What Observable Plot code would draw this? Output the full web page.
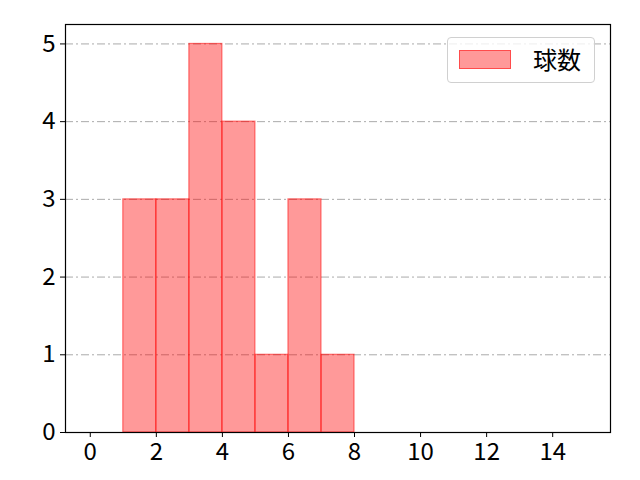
<!DOCTYPE html>
<html>
<head>
<meta charset="utf-8">
<script src="https://cdn.jsdelivr.net/npm/d3@7"></script>
<script src="https://cdn.jsdelivr.net/npm/@observablehq/plot@0.6"></script>
<style>
  html, body { margin: 0; padding: 0; background: #fff; }
  #wrap { position: relative; width: 640px; height: 480px; }
  #wrap svg text { font-size: 24px !important; font-family: "Noto Sans CJK JP", sans-serif !important; fill: #000; }
  #legend {
    position: absolute; left: 447px; top: 37px; width: 148px; height: 46px;
    border: 1px solid #d0d0d0; border-radius: 4px; background: rgba(255,255,255,0.8);
    box-sizing: border-box; font-family: "Noto Sans CJK JP", sans-serif; font-size: 24px;
  }
  #legend .sw {
    position: absolute; left: 11px; top: 12px; width: 52px; height: 19px;
    background: rgba(255,0,0,0.4); border: 1px solid rgba(255,0,0,0.5); box-sizing: border-box;
  }
  #legend .lb { position: absolute; left: 85px; top: 5px; line-height: 32px; color: #000; }
</style>
</head>
<body>
<div id="wrap"></div>
<script>
const binStart = [1, 2, 3, 4, 5, 6, 7];
const binEnd   = [2, 3, 4, 5, 6, 7, 8];
const counts   = [3, 3, 5, 4, 1, 3, 1];
const xTicks = [0, 2, 4, 6, 8, 10, 12, 14];
const yTicks = [0, 1, 2, 3, 4, 5];
const seriesName = "球数";

const data = binStart.map((s, i) => ({x1: s, x2: binEnd[i], y: counts[i]}));

const chart = Plot.plot({
  width: 640,
  height: 480,
  marginLeft: 65,
  marginRight: 30,
  marginTop: 24,
  marginBottom: 48,
  style: {fontFamily: "'Noto Sans CJK JP', sans-serif", fontSize: "24px", color: "#000", background: "#fff"},
  x: {domain: [-0.75, 15.75], label: null},
  y: {domain: [0, 5.25], label: null},
  marks: [
    Plot.gridY(yTicks.slice(1), {stroke: "#aaaaaa", strokeOpacity: 1, strokeDasharray: "8,3,2,3", strokeWidth: 1}),
    Plot.rectY(data, {x1: "x1", x2: "x2", y: "y", fill: "red", fillOpacity: 0.4, stroke: "red", strokeOpacity: 0.5, strokeWidth: 1.2, inset: 0}),
    Plot.axisX({ticks: xTicks, tickFormat: "d", tickSize: 5, tickPadding: 5, label: null}),
    Plot.axisY({ticks: yTicks, tickFormat: "d", tickSize: 5, tickPadding: 5, label: null}),
    Plot.frame({stroke: "black", strokeWidth: 1.2})
  ]
});
const wrap = document.getElementById("wrap");
wrap.appendChild(chart);
const lg = document.createElement("div");
lg.id = "legend";
lg.innerHTML = `<div class="sw"></div><div class="lb">${seriesName}</div>`;
wrap.appendChild(lg);
</script>
</body>
</html>
